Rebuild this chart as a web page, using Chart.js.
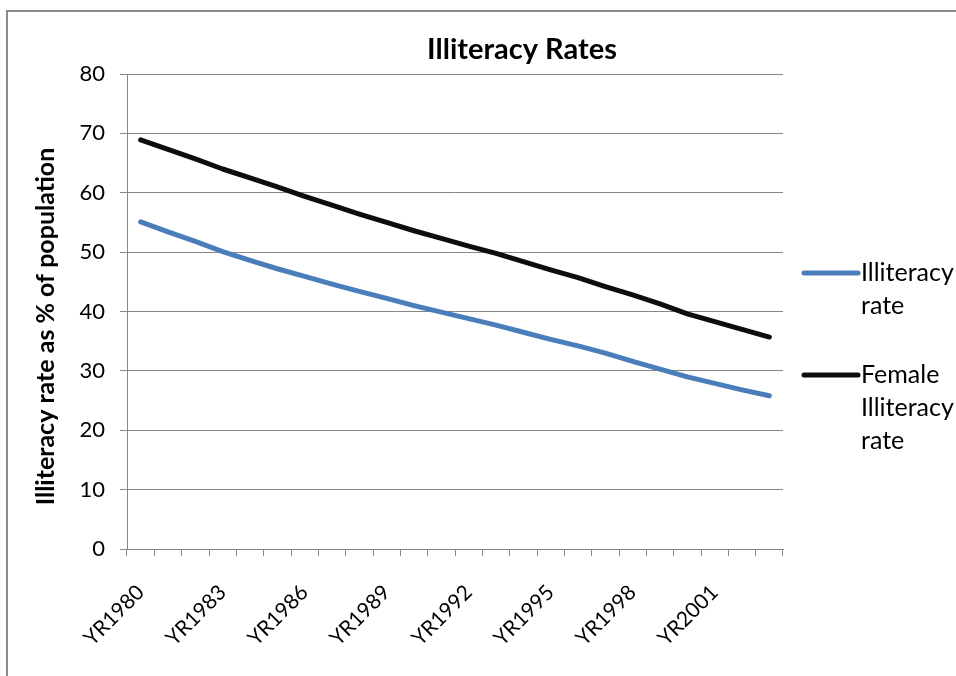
<!DOCTYPE html>
<html>
<head>
<meta charset="utf-8">
<script src="https://cdn.jsdelivr.net/npm/chart.js@4/dist/chart.umd.min.js"></script>
<style>
  html, body { margin: 0; padding: 0; background: #fff; }
  #wrap { position: relative; width: 956px; height: 676px; overflow: hidden; }
  #frame { position: absolute; left: 6px; top: 10px; width: 960px; height: 700px;
           border-left: 2px solid #8c8c8c; border-top: 2px solid #8c8c8c; }
  canvas { position: absolute; left: 0; top: 0; }
</style>
</head>
<body>
<div id="wrap">
  <div id="frame"></div>
  <canvas id="c" width="956" height="676"></canvas>
</div>
<script>
// Years covered by the series
const years = ['YR1980','YR1981','YR1982','YR1983','YR1984','YR1985','YR1986','YR1987',
               'YR1988','YR1989','YR1990','YR1991','YR1992','YR1993','YR1994','YR1995',
               'YR1996','YR1997','YR1998','YR1999','YR2000','YR2001','YR2002','YR2003'];

// Illiteracy rate, % of population
const illiteracyRate = [55.1, 53.4, 51.8, 50.1, 48.6, 47.2, 45.9, 44.6,
                        43.4, 42.2, 41.0, 39.9, 38.8, 37.7, 36.5, 35.3,
                        34.2, 33.0, 31.6, 30.3, 29.0, 27.9, 26.8, 25.8];

// Female illiteracy rate, % of population
const femaleIlliteracyRate = [68.9, 67.3, 65.7, 64.0, 62.5, 61.0, 59.4, 57.9,
                              56.4, 55.0, 53.6, 52.3, 51.0, 49.8, 48.4, 47.0,
                              45.7, 44.2, 42.8, 41.3, 39.6, 38.3, 37.0, 35.7];

const seriesNames = ['Illiteracy rate', 'Female Illiteracy rate'];
const yTicks = [0, 10, 20, 30, 40, 50, 60, 70, 80];
const chartTitle = 'Illiteracy Rates';
const yAxisTitle = 'Illiteracy rate as % of population';

const FONT = 'Lato, "Open Sans", sans-serif';
const GRID = '#878787';

// Chart title and vertical axis title
const titles = {
  id: 'titles',
  afterDraw(chart) {
    const ctx = chart.ctx;
    const area = chart.chartArea;
    ctx.save();
    ctx.fillStyle = '#000';
    ctx.textAlign = 'center';
    ctx.textBaseline = 'middle';
    ctx.font = 'bold 29px ' + FONT;
    ctx.fillText(chartTitle, (area.left + area.right) / 2 + 67, area.top - 24);
    ctx.translate(46, (area.top + area.bottom) / 2 + 15);
    ctx.rotate(-Math.PI / 2);
    ctx.font = 'bold 25px ' + FONT;
    ctx.fillText(yAxisTitle, 0, 0);
    ctx.restore();
  }
};

// Legend drawn beside the plot, with each label wrapped into a narrow column
const sideLegend = {
  id: 'sideLegend',
  afterDraw(chart) {
    const ctx = chart.ctx;
    const area = chart.chartArea;
    const lineH = 33;
    const maxW = 100;
    const x0 = area.right + 21;
    const x1 = x0 + 54;
    let y = area.top + 199;
    ctx.save();
    ctx.font = '25px ' + FONT;
    ctx.textBaseline = 'middle';
    ctx.textAlign = 'left';
    chart.data.datasets.forEach(ds => {
      const words = ds.label.split(' ');
      const lines = [];
      let cur = '';
      words.forEach(w => {
        const t = cur ? cur + ' ' + w : w;
        if (cur && ctx.measureText(t).width > maxW) { lines.push(cur); cur = w; }
        else cur = t;
      });
      if (cur) lines.push(cur);
      ctx.strokeStyle = ds.borderColor;
      ctx.lineWidth = 5;
      ctx.lineCap = 'round';
      ctx.beginPath();
      ctx.moveTo(x0, y);
      ctx.lineTo(x1, y);
      ctx.stroke();
      ctx.fillStyle = '#000';
      lines.forEach((ln, i) => ctx.fillText(ln, x1 + 3, y + i * lineH));
      y += (lines.length + 1) * lineH + 3;
    });
    ctx.restore();
  }
};

new Chart(document.getElementById('c'), {
  type: 'line',
  data: {
    labels: years,
    datasets: [
      { label: seriesNames[0], data: illiteracyRate, borderColor: '#4a7ebb',
        borderWidth: 5, pointRadius: 0, tension: 0, borderCapStyle: 'round', borderJoinStyle: 'round' },
      { label: seriesNames[1], data: femaleIlliteracyRate, borderColor: '#0d0d0d',
        borderWidth: 5, pointRadius: 0, tension: 0, borderCapStyle: 'round', borderJoinStyle: 'round' }
    ]
  },
  options: {
    responsive: false,
    animation: false,
    devicePixelRatio: 1,
    layout: { padding: { top: 74, left: 32, right: 173, bottom: 6 } },
    plugins: {
      legend: { display: false },
      tooltip: { enabled: false },
      title: { display: false }
    },
    scales: {
      x: {
        offset: true,
        grid: { display: true, drawOnChartArea: false, drawTicks: true, tickLength: 7,
                color: GRID, offset: true },
        border: { display: true, color: GRID, width: 1 },
        ticks: {
          autoSkip: false, maxRotation: 45, minRotation: 45, color: '#000',
          padding: 24, labelOffset: 0,
          font: { family: FONT, size: 21 },
          callback: (v, i) => (i % 3 === 0 ? years[i] : '')
        },
        afterFit: s => { s.height = 121; }
      },
      y: {
        min: 0, max: 80,
        afterBuildTicks: s => { s.ticks = yTicks.map(v => ({ value: v })); },
        grid: { color: GRID, tickLength: 7, lineWidth: 1 },
        border: { display: true, color: GRID, width: 1 },
        ticks: { color: '#000', padding: 15, font: { family: FONT, size: 22 } },
        afterFit: s => { s.width = 95; }
      }
    }
  },
  plugins: [titles, sideLegend]
});
</script>
</body>
</html>
